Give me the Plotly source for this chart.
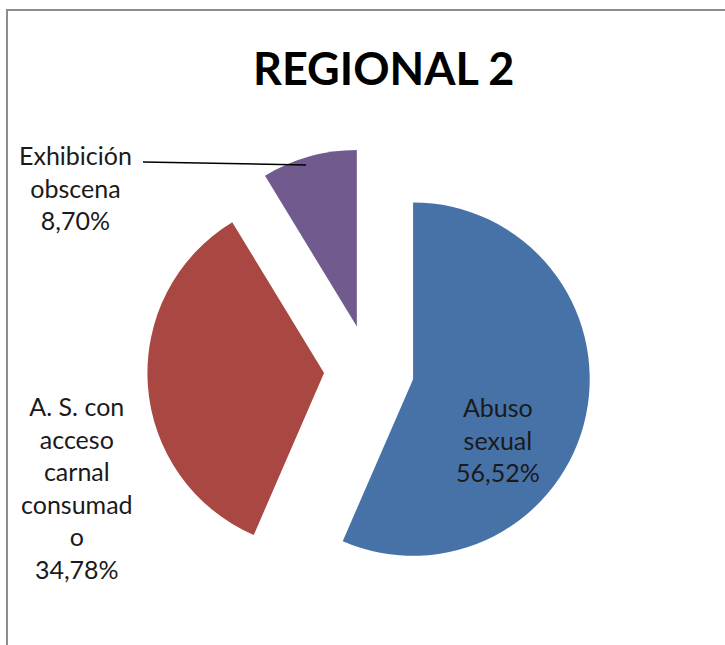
import plotly.graph_objects as go

# ---- data ----
categories = ["Abuso sexual", "A. S. con acceso carnal consumado", "Exhibición obscena"]
label_lines = [["Abuso", "sexual"], ["A. S. con", "acceso", "carnal", "consumad", "o"], ["Exhibición", "obscena"]]
values = [56.52, 34.78, 8.70]
colors = ["#4672A7", "#A94743", "#715A8E"]
title_text = "REGIONAL 2"

W, H = 725, 645

def pct(v):
    return f"{v:.2f}".replace(".", ",") + "%"

fig = go.Figure()
fig.add_trace(go.Pie(
    labels=categories,
    values=values,
    sort=False,
    direction="clockwise",
    rotation=0,
    pull=[0.255, 0.255, 0.255],
    marker=dict(colors=colors, line=dict(width=0)),
    textinfo="none",
    hoverinfo="label+percent",
    showlegend=False,
    domain=dict(x=[0.2032, 0.8147], y=[0.0826, 0.7702]),
))

font_family = "Lato, Carlito, Calibri, sans-serif"
label_pos = [(498, 439), (77, 487), (75, 188)]
for lines, v, (px, py) in zip(label_lines, values, label_pos):
    txt = "<br>".join(lines + [pct(v)])
    fig.add_annotation(
        x=px / W, y=1 - py / H, xref="paper", yref="paper",
        text=txt, showarrow=False, xanchor="center", yanchor="middle",
        align="center", font=dict(family=font_family, size=25, color="#1a1a1a"),
    )

# title
fig.add_annotation(
    x=383 / W, y=1 - 68 / H, xref="paper", yref="paper",
    text="<b>" + title_text + "</b>", showarrow=False, xanchor="center", yanchor="middle",
    font=dict(family=font_family, size=45, color="#000000"),
)

shapes = [
    # chart border (top and left)
    dict(type="line", xref="paper", yref="paper", x0=6 / W, x1=1.0, y0=1 - 10 / H, y1=1 - 10 / H,
         line=dict(color="#8c8c8c", width=2)),
    dict(type="line", xref="paper", yref="paper", x0=7 / W, x1=7 / W, y0=1 - 10 / H, y1=0,
         line=dict(color="#8c8c8c", width=2)),
    # leader line for the small slice label
    dict(type="line", xref="paper", yref="paper", x0=143 / W, x1=306 / W, y0=1 - 162 / H, y1=1 - 165 / H,
         line=dict(color="#000000", width=1.5)),
]

fig.update_layout(
    width=W, height=H,
    margin=dict(l=0, r=0, t=0, b=0),
    paper_bgcolor="white",
    plot_bgcolor="white",
    shapes=shapes,
    separators=",.",
)

fig.write_html("out.html", config={"displayModeBar": False},
               post_script="document.body.style.margin='0';")
